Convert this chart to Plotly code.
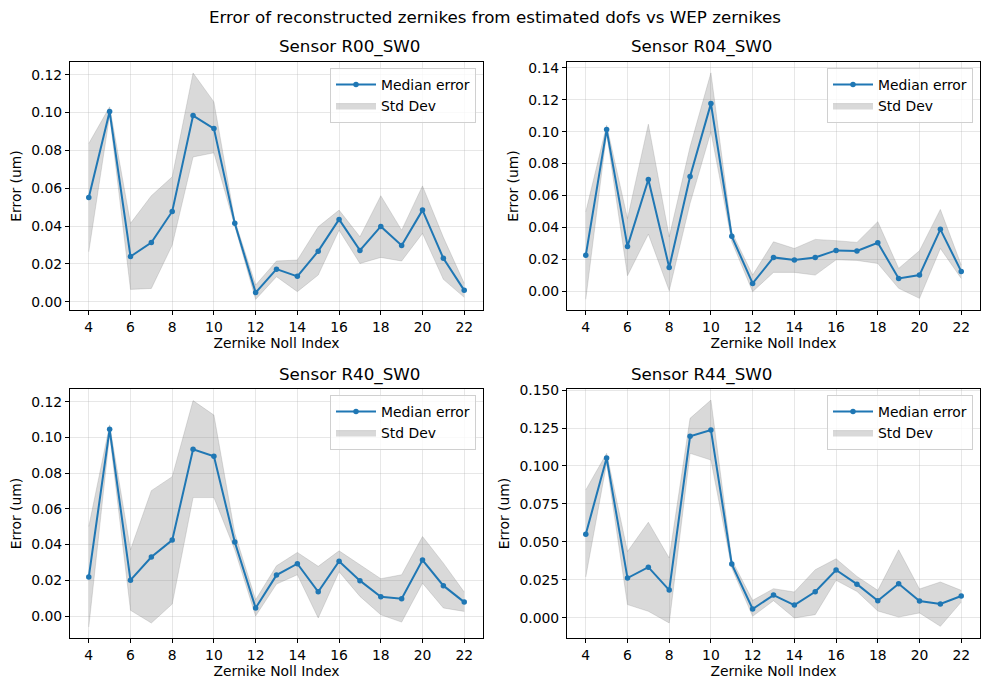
import plotly.graph_objects as go

# zernike noll indices on the x axis
noll = list(range(4, 23))

sensors = ['R00_SW0', 'R04_SW0', 'R40_SW0', 'R44_SW0']

# median error per sensor (um)
med_r00 = [0.0551, 0.1005, 0.0239, 0.0313, 0.0477, 0.0984, 0.0915, 0.0414, 0.0048, 0.0172,
           0.0134, 0.0267, 0.0435, 0.0271, 0.0398, 0.0297, 0.0484, 0.0229, 0.0060]
med_r04 = [0.0224, 0.1013, 0.0280, 0.0700, 0.0148, 0.0719, 0.1176, 0.0343, 0.0048, 0.0211,
           0.0194, 0.0211, 0.0255, 0.0251, 0.0303, 0.0079, 0.0100, 0.0387, 0.0123]
med_r40 = [0.0218, 0.1045, 0.0201, 0.0330, 0.0425, 0.0933, 0.0894, 0.0414, 0.0045, 0.0229,
           0.0293, 0.0136, 0.0307, 0.0198, 0.0108, 0.0097, 0.0313, 0.0170, 0.0078]
med_r44 = [0.0550, 0.1053, 0.0261, 0.0333, 0.0182, 0.1195, 0.1237, 0.0353, 0.0057, 0.0149,
           0.0083, 0.0171, 0.0314, 0.0221, 0.0112, 0.0224, 0.0110, 0.0090, 0.0143]

# std dev band (upper / lower edges)
up_r00 = [0.0836, 0.1030, 0.0414, 0.0560, 0.0660, 0.1209, 0.1056, 0.0430, 0.0088, 0.0215,
          0.0220, 0.0396, 0.0484, 0.0343, 0.0560, 0.0378, 0.0612, 0.0340, 0.0097]
lo_r00 = [0.0264, 0.0985, 0.0065, 0.0070, 0.0299, 0.0765, 0.0787, 0.0400, 0.0012, 0.0132,
          0.0053, 0.0141, 0.0378, 0.0202, 0.0234, 0.0215, 0.0361, 0.0118, 0.0023]
up_r04 = [0.0497, 0.1040, 0.0455, 0.1047, 0.0340, 0.0905, 0.1369, 0.0370, 0.0100, 0.0309,
          0.0267, 0.0324, 0.0316, 0.0305, 0.0435, 0.0142, 0.0253, 0.0512, 0.0163]
lo_r04 = [-0.0052, 0.0988, 0.0096, 0.0357, 0.0002, 0.0550, 0.0999, 0.0310, -0.0004, 0.0117,
          0.0117, 0.0100, 0.0196, 0.0192, 0.0173, 0.0017, -0.0046, 0.0267, 0.0079]
up_r40 = [0.0501, 0.1070, 0.0371, 0.0702, 0.0780, 0.1206, 0.1125, 0.0464, 0.0091, 0.0281,
          0.0356, 0.0278, 0.0365, 0.0285, 0.0209, 0.0231, 0.0445, 0.0296, 0.0134]
lo_r40 = [-0.0061, 0.1014, 0.0032, -0.0039, 0.0067, 0.0663, 0.0663, 0.0371, 0.0000, 0.0179,
          0.0231, -0.0011, 0.0248, 0.0110, 0.0007, -0.0034, 0.0184, 0.0045, 0.0026]
up_r44 = [0.0842, 0.1083, 0.0436, 0.0629, 0.0393, 0.1314, 0.1434, 0.0380, 0.0114, 0.0191,
          0.0169, 0.0316, 0.0388, 0.0272, 0.0180, 0.0447, 0.0189, 0.0235, 0.0180]
lo_r44 = [0.0268, 0.1018, 0.0086, 0.0042, -0.0035, 0.1083, 0.1039, 0.0327, 0.0009, 0.0112,
          -0.0002, 0.0020, 0.0246, 0.0173, 0.0044, 0.0004, 0.0031, -0.0057, 0.0103]

medians = [med_r00, med_r04, med_r40, med_r44]
uppers = [up_r00, up_r04, up_r40, up_r44]
lowers = [lo_r00, lo_r04, lo_r40, lo_r44]

W, H = 989, 691
OFF = 8  # page body margin, shift everything back by this
FONT = 'DejaVu Sans'
BLUE = '#1f77b4'
BAND = 'rgba(128,128,128,0.3)'


def px(x):
    return (x - OFF) / W


def py(y):
    return 1 - (y - OFF) / H


# pixel boxes of the four axes (screen coords): left, right, top, bottom
boxes = [(70, 483, 62, 310), (567, 980, 62, 310),
         (70, 483, 389, 638), (567, 980, 389, 638)]
y_ranges = [[-0.0044, 0.1267], [-0.0119, 0.1437], [-0.0123, 0.1271], [-0.0134, 0.1507]]
y_dtick = [0.02, 0.02, 0.02, 0.025]
y_fmt = ['.2f', '.2f', '.2f', '.3f']

fig = go.Figure()
annotations = []

for i in range(4):
    n = '' if i == 0 else str(i + 1)
    lg = 'legend' + n
    fig.add_trace(go.Scatter(x=noll, y=lowers[i], mode='lines', line=dict(color=BAND, width=0.8),
                             showlegend=False, hoverinfo='skip', xaxis='x' + n, yaxis='y' + n))
    fig.add_trace(go.Scatter(x=noll, y=uppers[i], mode='lines', line=dict(color=BAND, width=0.8),
                             fill='tonexty', fillcolor=BAND, name='Std Dev', legend=lg,
                             legendrank=2, xaxis='x' + n, yaxis='y' + n))
    fig.add_trace(go.Scatter(x=noll, y=medians[i], mode='lines+markers', name='Median error',
                             line=dict(color=BLUE, width=2), marker=dict(color=BLUE, size=5.5),
                             legend=lg, legendrank=1, xaxis='x' + n, yaxis='y' + n))

    l, r, t, b = boxes[i]
    axis_common = dict(showline=True, linecolor='black', linewidth=1, mirror=True,
                       ticks='outside', ticklen=4, tickcolor='black', showgrid=True,
                       gridcolor='rgba(176,176,176,0.3)', gridwidth=1, zeroline=False,
                       automargin=False,
                       tickfont=dict(family=FONT, size=13.9, color='black'))
    fig.update_layout({
        'xaxis' + n: dict(domain=[px(l), px(r)], anchor='y' + n, range=[3.1, 22.9],
                          tickmode='linear', tick0=4, dtick=2,
                          title=dict(text='Zernike Noll Index', standoff=2,
                                     font=dict(family=FONT, size=13.9, color='black')),
                          **axis_common),
        'yaxis' + n: dict(domain=[py(b), py(t)], anchor='x' + n, range=y_ranges[i],
                          tickmode='linear', tick0=0, dtick=y_dtick[i], tickformat=y_fmt[i],
                          title=dict(text='Error (um)', standoff=6,
                                     font=dict(family=FONT, size=13.9, color='black')),
                          **axis_common),
        lg: dict(x=px(r - 7), y=py(t + 6), xanchor='right', yanchor='top',
                 traceorder='normal', itemwidth=40,
                 bgcolor='rgba(255,255,255,0.8)', bordercolor='#d0d0d0', borderwidth=1,
                 font=dict(family=FONT, size=13.9, color='black'), tracegroupgap=0),
    })
    annotations.append(dict(text='Sensor ' + sensors[i], x=px((l + r) / 2), y=py(t - 15),
                            xref='paper', yref='paper', showarrow=False, yanchor='middle',
                            font=dict(family=FONT, size=16.7, color='black')))

annotations.append(dict(text='Error of reconstructed zernikes from estimated dofs vs WEP zernikes',
                        x=px(494.5), y=py(17), xref='paper', yref='paper', showarrow=False,
                        yanchor='middle', font=dict(family=FONT, size=16.7, color='black')))

fig.update_layout(width=W, height=H, margin=dict(l=0, r=0, t=0, b=0),
                  paper_bgcolor='white', plot_bgcolor='white',
                  annotations=annotations, font=dict(family=FONT))

fig.write_html('out.html')
